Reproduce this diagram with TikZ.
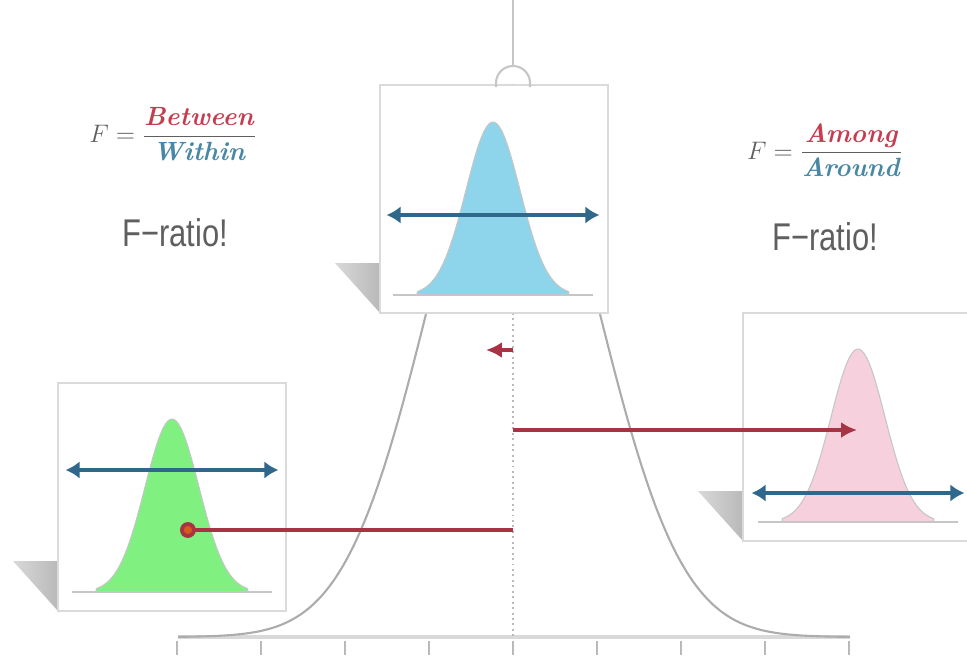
\documentclass[tikz,border=0pt]{standalone}
\usepackage{amsmath}
\usepackage{xcolor}
\usepackage{fontspec}
\usepackage{tikz}
\usetikzlibrary{
    arrows.meta,
    positioning,
    calc
}
\newfontfamily\ratiofont[FakeStretch=0.8]{Liberation Sans}
\definecolor{BellBlue}{RGB}{142,212,235}
\definecolor{BellGreen}{RGB}{128,240,128}
\definecolor{BellPink}{RGB}{246,208,220}
\definecolor{ArrowBlue}{RGB}{47,104,138}
\definecolor{ArrowRed}{RGB}{166,52,66}
\definecolor{DotOrange}{RGB}{214,90,30}
\definecolor{BetweenRed}{RGB}{196,62,80}
\definecolor{WithinBlue}{RGB}{72,136,164}
\definecolor{RatioGray}{RGB}{95,95,95}
\definecolor{PanelEdge}{RGB}{218,218,218}
\tikzset{
  panel/.style      = {draw=PanelEdge, line width=1.6pt, fill=white,
                       minimum width=4.56cm, minimum height=4.56cm, inner sep=0pt},
  shadowtri/.style  = {left color=gray!30, right color=gray!55, draw=none},
  spreadarrow/.style= {{Latex[length=8pt,width=10pt]}-{Latex[length=8pt,width=10pt]},
                       line width=2.2pt, ArrowBlue},
  pullarrow/.style  = {-{Latex[length=9pt,width=9pt]}, line width=2.2pt, ArrowRed},
  bigcurve/.style   = {draw=gray!65, line width=1.2pt},
  axisline/.style   = {draw=gray!30, line width=2pt},
  tickline/.style   = {draw=gray!55, line width=1.2pt},
  meanline/.style   = {draw=gray!55, line width=1.1pt, dotted},
  hanger/.style     = {draw=gray!45, line width=1.2pt},
  fraction/.style   = {text=RatioGray, font=\fontsize{15}{18}\selectfont},
  ratiotext/.style  = {text=RatioGray, font=\ratiofont\fontsize{22}{26}\selectfont}
}

\begin{document}
\begin{tikzpicture}[x=0.02cm, y=-0.02cm,
    declare function={bell(\t)=exp(-0.5*(\t)*(\t));}]
\useasboundingbox (0,0) rectangle (967,660);

\draw[axisline] (178,637) -- (850,637);
\foreach \k in {-4,...,4}
  \draw[tickline] ({513+84*\k},641) -- ({513+84*\k},655);
\draw[bigcurve] plot[domain=178:850, samples=160] (\x,{637-552*bell((\x-513)/84)});
\draw[meanline] (513,313) -- (513,637);

% panels with their shadows
\coordinate (midpos)   at (494,199);
\coordinate (leftpos)  at (172,497);
\coordinate (rightpos) at (857,427);
\foreach \p in {midpos,leftpos,rightpos}
  \shade[shadowtri] ($(\p)+(-159,64)$) -- ($(\p)+(-114,64)$) -- ($(\p)+(-114,114)$) -- cycle;
\node[panel] (midpanel)   at (midpos)   {};
\node[panel] (leftpanel)  at (leftpos)  {};
\node[panel] (rightpanel) at (rightpos) {};

% bells in the panels
\foreach \cx/\by/\col in {493/295/BellBlue, 172/592/BellGreen, 858/522/BellPink}{
  \filldraw[fill=\col, draw=gray!45, line width=0.6pt]
    ({\cx-76},\by) -- plot[domain=-2.8:2.8, samples=60] ({\cx+27*\x},{\by-173*bell(\x)})
    -- ({\cx+76},\by) -- cycle;
  \draw[gray!45, line width=1.4pt] ({\cx-100},\by) -- ({\cx+100},\by);
}

\draw[spreadarrow] ($(midpanel.west)+(8,16)$)    -- ($(midpanel.east)+(-10,16)$);
\draw[spreadarrow] ($(leftpanel.west)+(9,-27)$)  -- ($(leftpanel.east)+(-9,-27)$);
\draw[spreadarrow] ($(rightpanel.west)+(10,66)$) -- ($(rightpanel.east)+(-8,66)$);

% shifts away from the grand mean
\coordinate (gapA)     at (513,350);
\coordinate (gapB)     at (513,430);
\coordinate (gapC)     at (513,530);
\coordinate (nudge)    at (486,350);
\coordinate (pinkhit)  at (857,430);
\coordinate (greenhit) at (180,530);
\draw[pullarrow] (gapA) -- (nudge);
\draw[pullarrow] (gapB) -- (pinkhit);
\draw[pullarrow, -{Circle[length=9pt,fill=DotOrange]}] (gapC) -- (greenhit);

% hanger
\coordinate (hangtop)  at (513,0);
\coordinate (hookapex) at (513,66);
\draw[hanger] (hangtop) -- (hookapex);
\draw[hanger] (496,87) -- (496,83) arc[start angle=180, end angle=0, radius=0.34cm] -- (530,87);

\node[fraction] (leftF) at (173,134)
  {$F = \dfrac{\textcolor{BetweenRed}{\textbf{\textit{Between}}}}{\textcolor{WithinBlue}{\textbf{\textit{Within}}}}$};
\node[ratiotext] (leftratio) at (175,233) {F−ratio!};
\node[fraction] (rightF) at (825,150)
  {$F = \dfrac{\textcolor{BetweenRed}{\textbf{\textit{Among}}}}{\textcolor{WithinBlue}{\textbf{\textit{Around}}}}$};
\node[ratiotext] (rightratio) at (825,237) {F−ratio!};
\end{tikzpicture}
\end{document}
